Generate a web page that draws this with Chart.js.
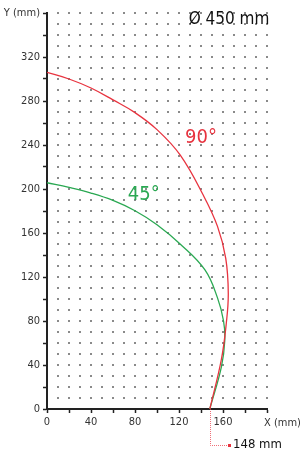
<!DOCTYPE html>
<html>
<head>
<meta charset="utf-8">
<script src="https://cdn.jsdelivr.net/npm/chart.js@4/dist/chart.umd.min.js"></script>
<style>
  html, body { margin: 0; padding: 0; background: #fff; }
  #wrap { width: 302px; height: 452px; }
</style>
</head>
<body>
<div id="wrap"><canvas id="bendChart" width="302" height="452"></canvas></div>
<script>
// bend curves (mm)
var red90X = [0, 20, 40, 60, 80, 100, 121, 142, 155, 162.5, 164.8, 163, 158.5, 148];
var red90Y = [306, 300, 291.8, 281, 269.4, 254, 231, 194.5, 166, 137, 105, 78, 45, 0];
var green45X = [0, 20, 40, 60, 80, 100, 121, 143.6, 155, 160.5, 161.6, 158.5, 148];
var green45Y = [205.7, 201.4, 196.3, 189.6, 180.2, 167.5, 150, 126.4, 101, 80, 62, 38, 0];
var xTicks = [0, 40, 80, 120, 160];
var yTicks = [0, 40, 80, 120, 160, 200, 240, 280, 320];
var endX = 148;
var diameterText = "\u00D8 450 mm";

var RED = "#e8333f";
var GREEN = "#2aa852";
var FONT = "'DejaVu Sans Condensed', 'Liberation Sans Narrow', 'DejaVu Sans', sans-serif";

function toPoints(xs, ys) {
  return xs.map(function (x, i) { return { x: x, y: ys[i] }; });
}

// dotted background grid, every 10 mm
var dotGrid = {
  id: "dotGrid",
  beforeDatasetsDraw: function (chart) {
    var c = chart.ctx, xs = chart.scales.x, ys = chart.scales.y;
    c.save();
    c.fillStyle = "#8a8a8a";
    for (var gx = 10; gx <= 200; gx += 10) {
      for (var gy = 10; gy <= 360; gy += 10) {
        var px = Math.round(xs.getPixelForValue(gx));
        var py = Math.round(ys.getPixelForValue(gy));
        c.fillRect(px - 1, py - 1, 2, 2);
      }
    }
    c.restore();
  }
};

// labels and the 148 mm leader
var notes = {
  id: "notes",
  afterDraw: function (chart) {
    var c = chart.ctx, xs = chart.scales.x, ys = chart.scales.y;
    c.save();
    c.textBaseline = "middle";

    c.font = "20px " + FONT;
    c.fillStyle = RED;
    c.textAlign = "center";
    c.fillText("90\u00B0", xs.getPixelForValue(140), ys.getPixelForValue(247));
    c.fillStyle = GREEN;
    c.fillText("45\u00B0", xs.getPixelForValue(88), ys.getPixelForValue(194.5));

    c.font = "17px " + FONT;
    c.fillStyle = "#111";
    c.fillText(diameterText, 229, 20);

    c.font = "11px " + FONT;
    c.fillStyle = "#333";
    c.textAlign = "left";
    c.fillText("X (mm)", xs.getPixelForValue(200) - 3, 423);

    // leader from the end point
    var lx = Math.round(xs.getPixelForValue(endX)) + 0.5;
    var ly = ys.getPixelForValue(0);
    c.strokeStyle = "rgba(232,51,63,0.7)";
    c.lineWidth = 1;
    c.setLineDash([1, 1]);
    c.beginPath();
    c.moveTo(lx, ly);
    c.lineTo(lx, 445.5);
    c.lineTo(229, 445.5);
    c.stroke();
    c.setLineDash([]);
    c.fillStyle = RED;
    c.fillRect(228, 444, 3, 3);

    c.font = "13px " + FONT;
    c.fillStyle = "#111";
    c.fillText(endX + " mm", 233, 445);
    c.restore();
  }
};

var ctx = document.getElementById("bendChart").getContext("2d");
new Chart(ctx, {
  type: "line",
  data: {
    datasets: [
      {
        label: "90\u00B0",
        data: toPoints(red90X, red90Y),
        borderColor: RED,
        borderWidth: 1.3,
        pointRadius: 0,
        tension: 0.4,
        fill: false
      },
      {
        label: "45\u00B0",
        data: toPoints(green45X, green45Y),
        borderColor: GREEN,
        borderWidth: 1.3,
        pointRadius: 0,
        tension: 0.4,
        fill: false
      }
    ]
  },
  options: {
    responsive: false,
    animation: false,
    layout: { padding: { top: 13, right: 35, left: 0, bottom: 0 } },
    plugins: { legend: { display: false }, tooltip: { enabled: false } },
    scales: {
      x: {
        type: "linear",
        min: 0, max: 200,
        afterFit: function (s) { s.height = 43; },
        afterBuildTicks: function (s) {
          var t = [];
          for (var v = 0; v <= 200; v += 20) t.push({ value: v });
          s.ticks = t;
        },
        border: { color: "#222", width: 2 },
        grid: { drawOnChartArea: false, drawTicks: true, tickLength: 4, color: "#222", tickColor: "#222", tickWidth: 1.5 },
        ticks: {
          autoSkip: false, maxRotation: 0, padding: 3,
          color: "#333",
          font: { family: FONT, size: 11 },
          callback: function (v) { return xTicks.indexOf(v) >= 0 ? String(v) : ""; }
        }
      },
      y: {
        type: "linear",
        min: 0, max: 360,
        afterFit: function (s) { s.width = 47; },
        afterBuildTicks: function (s) {
          var t = [];
          for (var v = 0; v <= 360; v += 20) t.push({ value: v });
          s.ticks = t;
        },
        border: { color: "#222", width: 2 },
        grid: { drawOnChartArea: false, drawTicks: true, tickLength: 4, color: "#222", tickColor: "#222", tickWidth: 1.5 },
        ticks: {
          autoSkip: false, padding: 3,
          color: "#333",
          font: { family: FONT, size: 11 },
          callback: function (v) {
            if (v === 360) return "Y (mm)";
            return yTicks.indexOf(v) >= 0 ? String(v) : "";
          }
        }
      }
    }
  },
  plugins: [dotGrid, notes]
});
</script>
</body>
</html>
